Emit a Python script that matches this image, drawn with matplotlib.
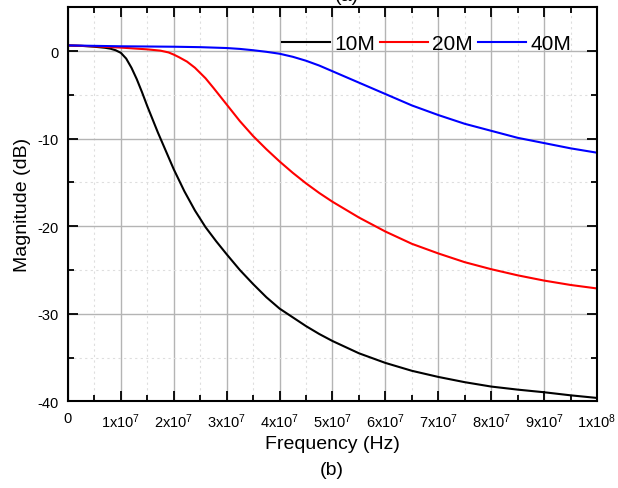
import matplotlib
matplotlib.use("Agg")
import matplotlib.pyplot as plt
from matplotlib.ticker import MultipleLocator

plt.rcParams["font.family"] = ["Liberation Sans", "DejaVu Sans"]
plt.rcParams["mathtext.default"] = "regular"
plt.rcParams["axes.unicode_minus"] = False

# frequencies in units of 1e7 Hz, magnitude in dB
f_10m = [0, 0.25, 0.5, 0.7, 0.8, 0.9, 1.0, 1.1, 1.2, 1.3, 1.4, 1.5, 1.6, 1.7, 1.8, 1.9, 2.0,
         2.2, 2.4, 2.6, 2.8, 3.0, 3.25, 3.5, 3.75, 4.0, 4.25, 4.5, 4.75, 5.0, 5.5, 6.0,
         6.5, 7.0, 7.5, 8.0, 8.5, 9.0, 9.5, 10.0]
mag_10m = [0.65, 0.6, 0.5, 0.38, 0.28, 0.1, -0.2, -0.85, -1.9, -3.2, -4.7, -6.3, -7.8, -9.3,
           -10.7, -12.1, -13.5, -16.0, -18.2, -20.1, -21.7, -23.2, -25.0, -26.6, -28.1, -29.4,
           -30.4, -31.4, -32.3, -33.1, -34.5, -35.6, -36.5, -37.2, -37.8, -38.3, -38.65,
           -38.95, -39.3, -39.6]

f_20m = [0, 0.5, 1.0, 1.5, 1.75, 1.9, 2.0, 2.1, 2.25, 2.4, 2.5, 2.6, 2.75, 3.0, 3.25, 3.5,
         3.75, 4.0, 4.25, 4.5, 4.75, 5.0, 5.5, 6.0, 6.5, 7.0, 7.5, 8.0, 8.5, 9.0, 9.5, 10.0]
mag_20m = [0.65, 0.55, 0.4, 0.2, 0.05, -0.15, -0.4, -0.7, -1.2, -1.9, -2.5, -3.1, -4.2, -6.1,
           -8.0, -9.7, -11.2, -12.6, -13.9, -15.1, -16.2, -17.2, -19.0, -20.6, -22.0, -23.1,
           -24.1, -24.9, -25.6, -26.2, -26.7, -27.1]

f_40m = [0, 1.0, 2.0, 2.5, 3.0, 3.25, 3.5, 3.75, 4.0, 4.25, 4.5, 4.75, 5.0, 5.5, 6.0, 6.5,
         7.0, 7.5, 8.0, 8.5, 9.0, 9.5, 10.0]
mag_40m = [0.65, 0.55, 0.5, 0.45, 0.35, 0.25, 0.1, -0.08, -0.3, -0.65, -1.1, -1.65, -2.3,
           -3.6, -4.9, -6.2, -7.3, -8.3, -9.1, -9.9, -10.5, -11.1, -11.6]

x_ticks = [0, 1, 2, 3, 4, 5, 6, 7, 8, 9, 10]
x_labels = ["0"] + [f"{i}x10$^{{7}}$" for i in range(1, 10)] + ["1x10$^{8}$"]
y_ticks = [0, -10, -20, -30, -40]

fig = plt.figure(figsize=(6.18, 4.89), dpi=100)
ax = fig.add_axes([0.110, 0.177, 0.856, 0.806])

ax.plot([v * 1e7 for v in f_10m], mag_10m, color="black", lw=1.5, label="10M")
ax.plot([v * 1e7 for v in f_20m], mag_20m, color="red", lw=1.5, label="20M")
ax.plot([v * 1e7 for v in f_40m], mag_40m, color="blue", lw=1.5, label="40M")

ax.set_xlim(0, 1e8)
ax.set_ylim(-40, 5)
ax.set_xticks([v * 1e7 for v in x_ticks])
ax.set_xticklabels(x_labels)
ax.set_yticks(y_ticks)
ax.xaxis.set_minor_locator(MultipleLocator(5e6))
ax.yaxis.set_minor_locator(MultipleLocator(5))

ax.tick_params(which="both", direction="in", top=True, right=True, labelsize=10.5, width=1.3)
ax.tick_params(which="major", length=7, pad=7)
ax.tick_params(which="minor", length=4)
for s in ax.spines.values():
    s.set_linewidth(1.5)

ax.grid(which="major", color="#b4b4b4", lw=1.0)
ax.grid(which="minor", color="#dedede", lw=0.8, ls=(0, (2, 3)))
ax.set_axisbelow(True)

ax.set_xlabel("Frequency (Hz)", fontsize=14, labelpad=4)
ax.set_ylabel("Magnitude (dB)", fontsize=14, labelpad=4)

ax.legend(ncol=3, frameon=False, loc="center", bbox_to_anchor=(0.678, 0.907),
          fontsize=15, handlelength=2.3, handletextpad=0.2, columnspacing=0.25,
          borderpad=0, borderaxespad=0)

fig.text(0.537, 0.0385, "(b)", ha="center", va="center", fontsize=14)
fig.text(0.561, 0.998, "(a)", ha="center", va="baseline", fontsize=14)

fig.savefig("out.png", dpi=100, facecolor="white")
